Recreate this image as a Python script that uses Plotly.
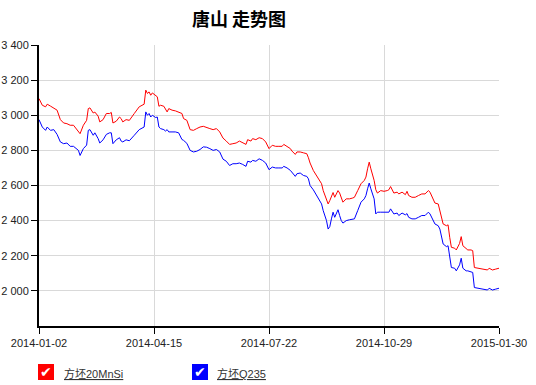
import plotly.graph_objects as go

# trading-day index of each sampled point (0 = 2014-01-02, 280 = 2015-01-30)
day_index = [
    0, 2, 4, 5, 7, 9, 11, 13, 15, 17, 19, 21, 24, 25, 27, 29, 30, 31, 33, 34, 36, 37, 39, 41, 43, 44, 45, 47, 49, 50, 51, 53, 55, 57,
    58, 61, 63, 64, 65, 66, 67, 68, 69, 71, 72, 73, 74, 76, 77, 78, 79, 81, 83, 85, 87, 88, 90, 92, 94, 96, 98, 100, 102, 104, 106, 108, 110, 112,
    114, 116, 118, 120, 122, 124, 126, 127, 129, 130, 132, 134, 136, 138, 139, 140, 142, 144, 146, 148, 149, 151, 153, 154, 156, 157, 159, 161, 163, 164, 165, 167,
    170, 172, 173, 175, 176, 177, 178, 179, 180, 182, 183, 184, 185, 187, 189, 191, 192, 194, 196, 198, 199, 200, 201, 202, 204, 205, 206, 208, 210, 212, 213, 214, 216, 218, 219, 221, 223, 224,
    225, 227, 229, 231, 233, 235, 237, 238, 240, 241, 243, 244, 246, 248, 249, 250, 251, 253, 254, 256, 257, 258, 260, 261, 263, 264, 265, 267, 269, 271, 273, 274, 276, 278, 280,
]

price_20MnSi = [
    3095, 3057, 3048, 3063, 3052, 3038, 3029, 2975, 2956, 2952, 2943, 2943, 2905, 2895, 2943, 2971, 3038, 3042, 3013, 3018, 2995, 2962, 2975, 3010, 3010, 3016, 2956, 2966, 2990, 2981, 2962, 2975, 2971, 2994,
    3010, 3048, 3057, 3063, 3143, 3124, 3133, 3114, 3127, 3114, 3105, 3051, 3057, 3051, 3038, 3019, 3038, 3029, 3025, 3019, 3010, 2981, 2971, 2918, 2914, 2924, 2933, 2937, 2929, 2924, 2918, 2924, 2905, 2870,
    2853, 2834, 2838, 2842, 2853, 2842, 2834, 2861, 2853, 2867, 2861, 2872, 2867, 2848, 2823, 2810, 2829, 2823, 2823, 2823, 2834, 2820, 2810, 2796, 2777, 2791, 2791, 2786, 2781, 2758, 2728, 2685,
    2638, 2610, 2571, 2524, 2495, 2514, 2543, 2560, 2533, 2571, 2557, 2533, 2505, 2524, 2524, 2529, 2533, 2571, 2610, 2629, 2648, 2695, 2733, 2695, 2629, 2576, 2557, 2571, 2567, 2571, 2576, 2594, 2557, 2562, 2552, 2562, 2548, 2567,
    2543, 2533, 2533, 2543, 2552, 2552, 2571, 2562, 2524, 2500, 2495, 2457, 2381, 2371, 2376, 2305, 2248, 2243, 2233, 2270, 2309, 2257, 2243, 2233, 2233, 2229, 2133, 2129, 2124, 2124, 2119, 2129, 2119, 2124, 2129,
]

price_Q235 = [
    2975, 2933, 2914, 2933, 2914, 2918, 2891, 2848, 2838, 2842, 2823, 2823, 2800, 2771, 2810, 2830, 2914, 2918, 2886, 2900, 2867, 2842, 2860, 2891, 2900, 2900, 2838, 2860, 2872, 2853, 2848, 2860, 2855, 2872,
    2886, 2918, 2928, 2933, 3019, 3000, 3010, 2990, 3000, 2987, 2990, 2933, 2924, 2918, 2910, 2918, 2905, 2905, 2905, 2900, 2862, 2857, 2840, 2800, 2791, 2795, 2805, 2820, 2818, 2810, 2800, 2805, 2791, 2750,
    2738, 2714, 2724, 2724, 2728, 2720, 2709, 2738, 2733, 2743, 2738, 2752, 2743, 2728, 2705, 2690, 2705, 2700, 2700, 2700, 2709, 2700, 2686, 2676, 2652, 2667, 2671, 2657, 2652, 2638, 2600, 2575,
    2524, 2495, 2457, 2400, 2352, 2366, 2410, 2448, 2419, 2462, 2429, 2400, 2386, 2400, 2405, 2410, 2410, 2457, 2505, 2524, 2543, 2581, 2614, 2581, 2524, 2438, 2448, 2448, 2448, 2448, 2448, 2467, 2438, 2443, 2429, 2443, 2433, 2440,
    2419, 2410, 2410, 2419, 2429, 2429, 2448, 2438, 2400, 2381, 2371, 2352, 2267, 2252, 2257, 2200, 2133, 2129, 2114, 2148, 2186, 2129, 2114, 2114, 2110, 2105, 2019, 2015, 2010, 2010, 2005, 2015, 2005, 2010, 2015,
]

tick_index = [0, 70, 140, 210, 280]
tick_labels = ["2014-01-02", "2014-04-15", "2014-07-22", "2014-10-29", "2015-01-30"]
y_ticks = [2000, 2200, 2400, 2600, 2800, 3000, 3200, 3400]

series_names = ["方坯20MnSi", "方坯Q235"]
series_colors = ["#ff0000", "#0000ff"]

fig = go.Figure()
for name, vals, col in zip(series_names, [price_20MnSi, price_Q235], series_colors):
    fig.add_trace(go.Scatter(x=day_index, y=vals, mode="lines", name=name,
                             line=dict(color=col, width=1), showlegend=False))

W, H = 536, 385
L, R, T, B = 39, 37, 45, 59
pw, ph = W - L - R, H - T - B

def px(x):
    return (x - L) / pw

def py(y):
    return (H - B - y) / ph

shapes = []
annotations = []
# custom checkbox legend
legend_items = [(38, 62), (192, 215)]
for (bx, tx), name, col in zip(legend_items, series_names, series_colors):
    shapes.append(dict(type="rect", xref="paper", yref="paper",
                       x0=px(bx), x1=px(bx + 16), y0=py(380), y1=py(364),
                       fillcolor=col, line=dict(width=0)))
    annotations.append(dict(xref="paper", yref="paper", x=px(bx + 8), y=py(372),
                            text="✔", showarrow=False, xanchor="center", yanchor="middle",
                            font=dict(color="white", size=14, family="DejaVu Sans")))
    annotations.append(dict(xref="paper", yref="paper", x=px(tx), y=py(373),
                            text="<u>" + name + "</u>", showarrow=False,
                            xanchor="left", yanchor="middle",
                            font=dict(color="#333333", size=11,
                                      family="Liberation Sans, Noto Sans CJK SC")))

annotations.append(dict(xref="paper", yref="paper", x=px(239), y=py(18),
                        text="<b>唐山 走势图</b>", showarrow=False,
                        xanchor="center", yanchor="middle",
                        font=dict(color="black", size=18, family="Noto Sans CJK SC")))

fig.update_layout(
    width=W, height=H,
    margin=dict(l=L, r=R, t=T, b=B, autoexpand=False),
    paper_bgcolor="white", plot_bgcolor="white",
    separators=". ",
    shapes=shapes, annotations=annotations,
    font=dict(family="Liberation Sans, Arial", size=11, color="#222222"),
    xaxis=dict(range=[0, 280], tickvals=tick_index, ticktext=tick_labels,
               showgrid=True, gridcolor="#d9d9d9", gridwidth=1,
               showline=True, linecolor="black", linewidth=2,
               ticks="outside", ticklen=6, tickcolor="black", tickwidth=1,
               zeroline=False, tickfont=dict(size=11), automargin=False),
    yaxis=dict(range=[1800, 3400], tickvals=y_ticks, tickformat=",d",
               showgrid=True, gridcolor="#d9d9d9", gridwidth=1,
               showline=True, linecolor="black", linewidth=2,
               ticks="outside", ticklen=6, tickcolor="black", tickwidth=1,
               zeroline=False, tickfont=dict(size=11), automargin=False),
)

fig.write_html("out.html")
